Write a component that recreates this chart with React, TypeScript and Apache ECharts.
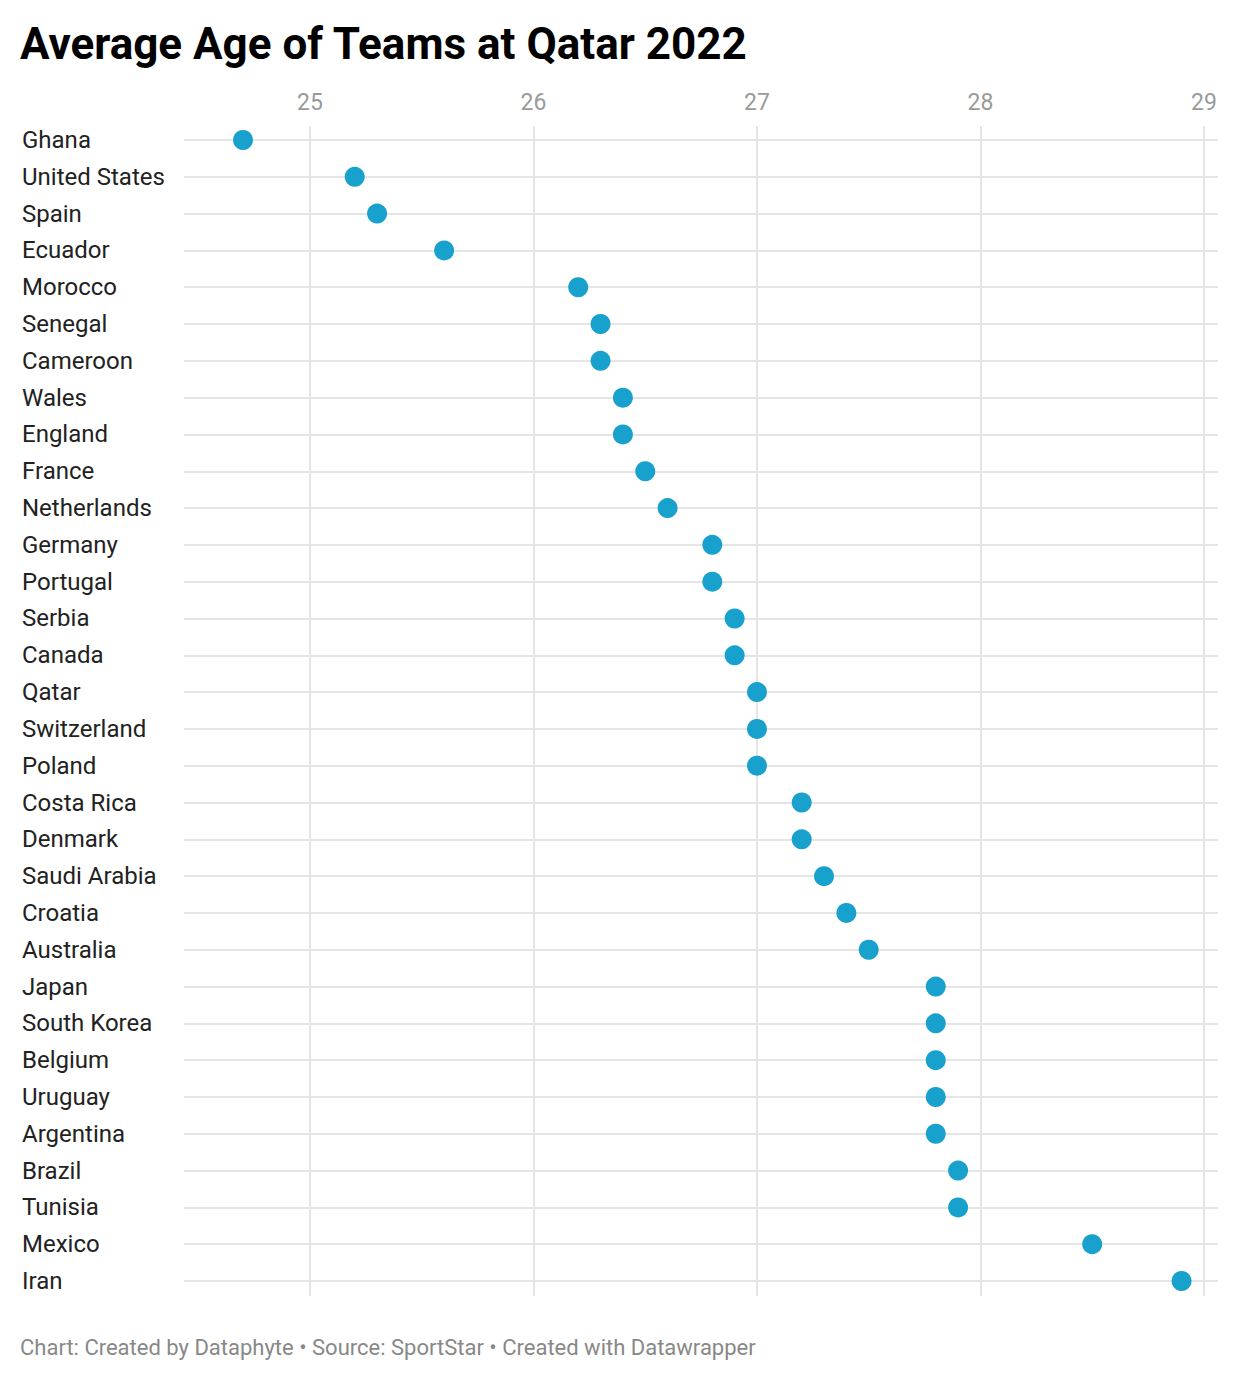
import React, { useEffect, useRef } from "react";
import * as echarts from "echarts";

const countries = [
  "Ghana", "United States", "Spain", "Ecuador", "Morocco", "Senegal", "Cameroon", "Wales",
  "England", "France", "Netherlands", "Germany", "Portugal", "Serbia", "Canada", "Qatar",
  "Switzerland", "Poland", "Costa Rica", "Denmark", "Saudi Arabia", "Croatia", "Australia", "Japan",
  "South Korea", "Belgium", "Uruguay", "Argentina", "Brazil", "Tunisia", "Mexico", "Iran",
];
const averageAge = [
  24.7, 25.2, 25.3, 25.6, 26.2, 26.3, 26.3, 26.4,
  26.4, 26.5, 26.6, 26.8, 26.8, 26.9, 26.9, 27.0,
  27.0, 27.0, 27.2, 27.2, 27.3, 27.4, 27.5, 27.8,
  27.8, 27.8, 27.8, 27.8, 27.9, 27.9, 28.5, 28.9,
];
const xTicks = [25, 26, 27, 28, 29];
const xMin = 24.436;
const xMax = 29.063;

const titleText = "Average Age of Teams at Qatar 2022";
const footerText = "Chart: Created by Dataphyte • Source: SportStar • Created with Datawrapper";

export default function App() {
  const ref = useRef<HTMLDivElement>(null);
  useEffect(() => {
    if (!ref.current) return;
    const chart = echarts.init(ref.current, null, { renderer: "svg" });
    const font = "Roboto, 'Noto Sans', sans-serif";
    const gridColor = "#e5e5e5";
    chart.setOption({
      animation: false,
      backgroundColor: "#ffffff",
      textStyle: { fontFamily: font },
      grid: [
        { left: 184, right: 22, top: 126, height: 1170 },
        { left: 184, right: 22, top: 140, height: 1141 },
      ],
      xAxis: [
        {
          type: "value",
          gridIndex: 0,
          position: "top",
          min: xMin,
          max: xMax,
          axisLine: { show: false },
          axisTick: { show: false, customValues: xTicks },
          axisLabel: {
            customValues: xTicks,
            color: "#9a9a9a",
            fontSize: 23,
            fontFamily: font,
            margin: 12,
          },
          splitLine: { show: true, lineStyle: { color: gridColor, width: 2 } },
        },
        {
          type: "value",
          gridIndex: 1,
          min: xMin,
          max: xMax,
          show: false,
          splitLine: { show: false },
        },
      ],
      yAxis: [
        { type: "value", gridIndex: 0, min: 0, max: 1, show: false, splitLine: { show: false } },
        {
          type: "category",
          gridIndex: 1,
          data: countries,
          inverse: true,
          boundaryGap: false,
          axisLine: { show: false },
          axisTick: { show: false },
          axisLabel: {
            interval: 0,
            align: "left",
            margin: 162,
            color: "#222222",
            fontSize: 24,
            fontFamily: font,
          },
          splitLine: { show: true, interval: 0, lineStyle: { color: gridColor, width: 2 } },
        },
      ],
      series: [
        {
          type: "scatter",
          xAxisIndex: 1,
          yAxisIndex: 1,
          symbol: "circle",
          symbolSize: 20,
          itemStyle: { color: "#18a1cd", opacity: 1 },
          data: averageAge.map((v, i) => [v, countries[i]]),
          z: 5,
        },
      ],
      graphic: [
        {
          type: "text",
          left: 20,
          top: 22,
          style: {
            text: titleText,
            fontSize: 44,
            fontWeight: "bold",
            fontFamily: font,
            fill: "#000000",
          },
        },
        {
          type: "text",
          left: 20,
          top: 1336,
          style: {
            text: footerText,
            fontSize: 22,
            fontFamily: font,
            fill: "#888888",
          },
        },
      ],
    });
    return () => chart.dispose();
  }, []);
  return (
    <div
      ref={ref}
      style={{ position: "absolute", left: 0, top: 0, width: 1240, height: 1382 }}
    />
  );
}
